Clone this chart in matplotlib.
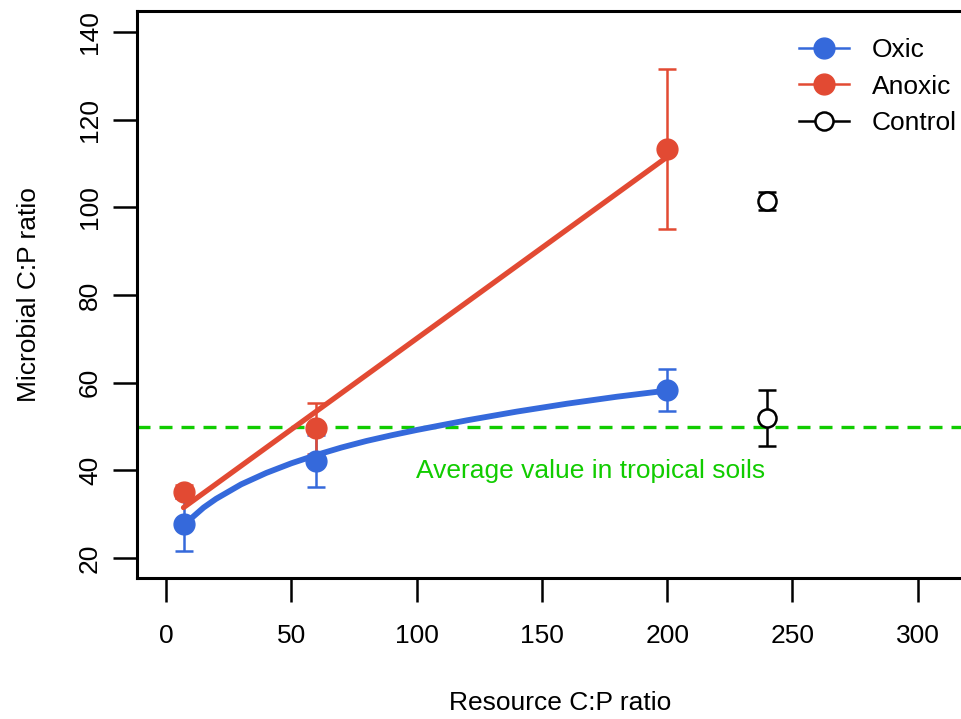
import matplotlib
matplotlib.use("Agg")
import matplotlib.pyplot as plt
from matplotlib.lines import Line2D

plt.rcParams["font.family"] = ["Liberation Sans", "DejaVu Sans"]

# Treatment means and standard errors
resource_cp = [7, 60, 200]
oxic_mean = [27.7, 42.1, 58.4]
oxic_err = [6.1, 5.9, 4.8]
anoxic_mean = [35.1, 49.6, 113.3]
anoxic_err = [1.5, 5.8, 18.3]

# Control soils (no amendment), plotted at a separate position
control_x = [240, 240]
control_mean = [101.5, 51.9]
control_err = [2.0, 6.4]

# Fitted trends
oxic_fit_x = [7, 10, 15, 20, 30, 40, 50, 60, 70, 80, 90, 100, 120, 140,
              160, 180, 200]
oxic_fit_y = [27.2, 29.0, 31.5, 33.5, 36.8, 39.4, 41.6, 43.5, 45.2, 46.7,
              48.0, 49.2, 51.4, 53.4, 55.2, 56.8, 58.2]
anoxic_fit_x = [7, 200]
anoxic_fit_y = [31.5, 111.5]

tropical_avg = 50

BLUE = "#3569DB"
RED = "#E24A33"
GREEN = "#11CC00"
FS = 19


def plot_ratios():
    fig = plt.figure(figsize=(9.61, 7.19), dpi=100)
    ax = fig.add_axes([0.1422, 0.1965, 0.8806, 0.7882])

    ax.axhline(tropical_avg, color=GREEN, lw=2.4, dashes=(3.9, 2.7), zorder=1)
    ax.text(169.5, 38.3, "Average value in tropical soils", color=GREEN,
            fontsize=FS, ha="center", va="baseline")

    ax.errorbar(resource_cp, oxic_mean, yerr=oxic_err, fmt="o", color=BLUE,
                ms=15, elinewidth=1.8, capsize=6.8, capthick=1.8, zorder=3)
    ax.errorbar(resource_cp, anoxic_mean, yerr=anoxic_err, fmt="o", color=RED,
                ms=15, elinewidth=1.8, capsize=6.5, capthick=1.8, zorder=3)
    ax.errorbar(control_x, control_mean, yerr=control_err, fmt="o",
                color="black", mfc="white", mec="black", mew=1.8, ms=13,
                elinewidth=1.8, capsize=6.5, capthick=1.8, zorder=3)

    ax.plot(oxic_fit_x, oxic_fit_y, color=BLUE, lw=4.2,
            solid_capstyle="round", solid_joinstyle="round", zorder=4)
    ax.plot(anoxic_fit_x, anoxic_fit_y, color=RED, lw=3.8,
            solid_capstyle="round", zorder=4)

    ax.set_xlim(-11.7, 326)
    ax.set_ylim(15.5, 144.8)
    ax.set_xticks([0, 50, 100, 150, 200, 250, 300])
    ax.set_yticks([20, 40, 60, 80, 100, 120, 140])
    ax.tick_params(axis="both", length=17, width=1.8, labelsize=FS)
    ax.tick_params(axis="x", pad=16)
    ax.tick_params(axis="y", pad=8)
    for lab in ax.get_yticklabels():
        lab.set_rotation(90)
        lab.set_va("center")
    for sp in ax.spines.values():
        sp.set_linewidth(2.2)

    ax.set_xlabel("Resource C:P ratio", fontsize=FS, va="center")
    ax.xaxis.set_label_coords(0.5, (577.7 - 703) / 566.7)
    ax.set_ylabel("Microbial C:P ratio", fontsize=FS, va="center")
    ax.yaxis.set_label_coords((29 - 136.7) / 846.3, 0.5)

    handles = [
        Line2D([], [], color=BLUE, lw=1.8, marker="o", ms=15),
        Line2D([], [], color=RED, lw=1.8, marker="o", ms=15),
        Line2D([], [], color="black", lw=1.8, marker="o", ms=13,
               mfc="white", mew=1.8),
    ]
    fig.legend(handles, ["Oxic", "Anoxic", "Control"], loc="upper left",
               bbox_to_anchor=(799 / 961, (719 - 38) / 719),
               bbox_transform=fig.transFigure, frameon=False, fontsize=FS,
               handlelength=1.89, handletextpad=0.87, labelspacing=0.48,
               borderpad=0, borderaxespad=0)

    fig.savefig("out.png", dpi=100)


def main():
    plot_ratios()


if __name__ == "__main__":
    main()
